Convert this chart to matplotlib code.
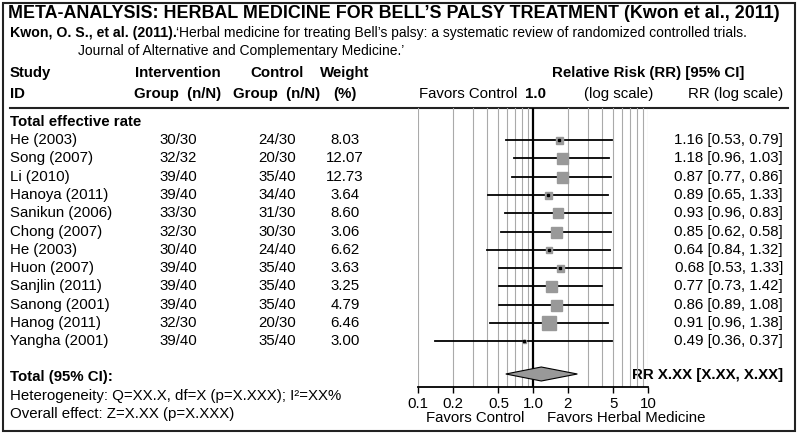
import matplotlib
matplotlib.use("Agg")
import matplotlib.pyplot as plt
from matplotlib.patches import Rectangle, Polygon
import numpy as np

plt.rcParams['font.family'] = ['Liberation Sans', 'DejaVu Sans']

studies = ["He (2003)", "Song (2007)", "Li (2010)", "Hanoya (2011)", "Sanikun (2006)", "Chong (2007)",
           "He (2003)", "Huon (2007)", "Sanjlin (2011)", "Sanong (2001)", "Hanog (2011)", "Yangha (2001)"]
intervention = ["30/30", "32/32", "39/40", "39/40", "33/30", "32/30", "30/40", "39/40", "39/40", "39/40", "32/30", "39/40"]
control = ["24/30", "20/30", "35/40", "34/40", "31/30", "30/30", "24/40", "35/40", "35/40", "35/40", "20/30", "35/40"]
weights = ["8.03", "12.07", "12.73", "3.64", "8.60", "3.06", "6.62", "3.63", "3.25", "4.79", "6.46", "3.00"]
rr_labels = ["1.16 [0.53, 0.79]", "1.18 [0.96, 1.03]", "0.87 [0.77, 0.86]", "0.89 [0.65, 1.33]",
             "0.93 [0.96, 0.83]", "0.85 [0.62, 0.58]", "0.64 [0.84, 1.32]", "0.68 [0.53, 1.33]",
             "0.77 [0.73, 1.42]", "0.86 [0.89, 1.08]", "0.91 [0.96, 1.38]", "0.49 [0.36, 0.37]"]
# plotted point estimates / CIs as drawn
pt = [1.68, 1.80, 1.80, 1.36, 1.66, 1.60, 1.38, 1.71, 1.44, 1.60, 1.39, 0.84]
lo = [0.58, 0.69, 0.66, 0.41, 0.57, 0.53, 0.40, 0.51, 0.51, 0.51, 0.42, 0.14]
hi = [4.90, 4.57, 4.73, 4.49, 4.80, 4.80, 4.63, 5.78, 3.95, 4.99, 4.51, 4.89]
box_px = [7, 11, 11, 7, 10, 11, 6, 7, 11, 11, 13, 3]
dot = [True, False, False, True, False, False, True, True, False, False, False, True]
diamond = [0.58, 1.18, 2.43]
ticks = [0.1, 0.2, 0.5, 1.0, 2, 5, 10]
tick_labels = ["0.1", "0.2", "0.5", "1.0", "2", "5", "10"]

W, H = 800, 436
fig = plt.figure(figsize=(8, 4.36), dpi=100)
bg = fig.add_axes([0, 0, 1, 1])
bg.set_xlim(0, W); bg.set_ylim(H, 0); bg.axis('off')

bg.add_patch(Rectangle((3, 3), 792, 428, fill=False, lw=1.5, ec='#222'))
bg.text(8, 13, "META-ANALYSIS: HERBAL MEDICINE FOR BELL\u2019S PALSY TREATMENT (Kwon et al., 2011)",
        fontsize=12.9, weight='bold', va='center')
bg.text(10, 33, "Kwon, O. S., et al. (2011).", fontsize=10.2, weight='bold', va='center')
bg.text(176, 33, "\u2018Herbal medicine for treating Bell\u2019s palsy: a systematic review of randomized controlled trials.",
        fontsize=10, va='center')
bg.text(78, 51, "Journal of Alternative and Complementary Medicine.\u2019", fontsize=10, va='center')

hy1, hy2 = 73, 94
fs = 10.8
bg.text(10, hy1, "Study", fontsize=fs, weight='bold', va='center')
bg.text(10, hy2, "ID", fontsize=fs, weight='bold', va='center')
for x, a, b in [(178, "Intervention", "Group  (n/N)"), (277, "Control", "Group  (n/N)"), (345, "Weight", "(%)")]:
    bg.text(x, hy1, a, fontsize=fs, weight='bold', ha='center', va='center')
    bg.text(x, hy2, b, fontsize=fs, weight='bold', ha='center', va='center')
bg.text(648, hy1, "Relative Risk (RR) [95% CI]", fontsize=fs, weight='bold', ha='center', va='center')
bg.text(419, hy2, "Favors Control", fontsize=fs, va='center')
bg.text(536, hy2, "1.0", fontsize=fs, weight='bold', ha='center', va='center')
bg.text(584, hy2, "(log scale)", fontsize=fs, va='center')
bg.text(783, hy2, "RR (log scale)", fontsize=fs, ha='right', va='center')
bg.plot([10, 788], [108, 108], color='#222', lw=1.5)

bg.text(10, 122, "Total effective rate", fontsize=fs, weight='bold', va='center')
ys = [140 + i * 18.3 for i in range(len(studies))]
for i, y in enumerate(ys):
    bg.text(10, y, studies[i], fontsize=fs, va='center')
    bg.text(178, y, intervention[i], fontsize=fs, ha='center', va='center')
    bg.text(277, y, control[i], fontsize=fs, ha='center', va='center')
    bg.text(345, y, weights[i], fontsize=fs, ha='center', va='center')
    bg.text(783, y, rr_labels[i], fontsize=fs, ha='right', va='center')

bg.text(10, 377, "Total (95% CI):", fontsize=fs, weight='bold', va='center')
bg.text(10, 396, "Heterogeneity: Q=XX.X, df=X (", fontsize=fs, va='center')
t = "Heterogeneity: Q=XX.X, df=X ("
bg.text(10, 396, "Heterogeneity: Q=XX.X, df=X (p=X.XXX); I\u00b2=XX%", fontsize=fs, va='center', alpha=0)
bg.texts[-2].remove()
bg.texts[-1].set_alpha(1)
bg.text(10, 414, "Overall effect: Z=X.XX (p=X.XXX)", fontsize=fs, va='center')
bg.text(783, 375, "RR X.XX [X.XX, X.XX]", fontsize=fs, weight='bold', ha='right', va='center')

# forest axes: x 418..648 px, y 108..387 px
x0, x1, y0, y1 = 418, 648, 108, 387
ax = fig.add_axes([x0 / W, 1 - y1 / H, (x1 - x0) / W, (y1 - y0) / H])
ax.set_xscale('log'); ax.set_xlim(0.1, 10); ax.set_ylim(y1, y0)
ax.patch.set_alpha(0)
for s in ['top', 'right', 'left']:
    ax.spines[s].set_visible(False)
ax.spines['bottom'].set_linewidth(1.3)
grid = [v * 10.0 ** e for e in (-1, 0) for v in range(1, 10)] + [10]
for g in grid:
    if g != 1:
        ax.axvline(g, color='#aaa', lw=0.8, zorder=0)
ax.axvline(1, color='black', lw=1.6, zorder=1)
ax.set_xticks(ticks); ax.set_xticklabels(tick_labels, fontsize=fs)
ax.minorticks_off()
ax.tick_params(axis='x', length=4, width=1, pad=3)
ax.set_yticks([])
ppd = fig.dpi / 72.0
for i, y in enumerate(ys):
    ax.plot([lo[i], hi[i]], [y, y], color='black', lw=1.3, zorder=2)
    ax.plot([pt[i]], [y], marker='s', ms=box_px[i] / ppd, color='#999', mec='#999', zorder=3)
    if dot[i]:
        ax.plot([pt[i]], [y], marker='s', ms=2.2 / ppd, color='black', zorder=4)
dy = 374
ax.add_patch(Polygon([(diamond[0], dy), (diamond[1], dy - 7), (diamond[2], dy), (diamond[1], dy + 7)],
                     closed=True, fc='#999', ec='black', lw=0.8, zorder=3))
bg.text(426, 418, "Favors Control", fontsize=fs, va='center')
bg.text(547, 418, "Favors Herbal Medicine", fontsize=fs, va='center')

fig.savefig("out.png", dpi=100)
